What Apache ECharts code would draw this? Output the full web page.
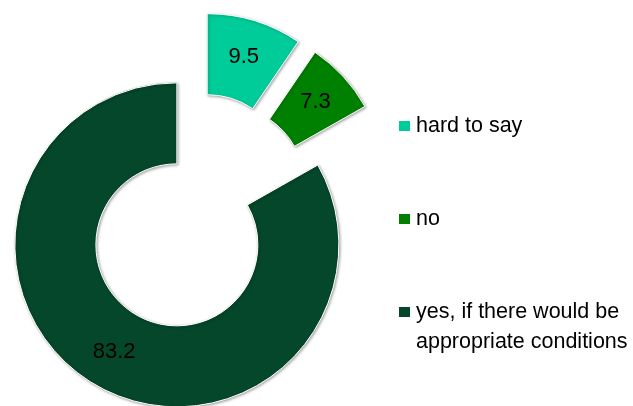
<!DOCTYPE html>
<html>
<head>
<meta charset="utf-8">
<script src="https://cdn.jsdelivr.net/npm/echarts@6/dist/echarts.min.js"></script>
<style>
html,body{margin:0;padding:0;background:#fff;}
#chart{width:633px;height:406px;}
</style>
</head>
<body>
<div id="chart"></div>
<script>
const categories = ['hard to say', 'no', 'yes, if there would be appropriate conditions'];
const values = [9.5, 7.3, 83.2];
const colors = ['#00CC99', '#008000', '#05472A'];
const legendLabels = ['hard to say', 'no', ' \nyes, if there would be\nappropriate conditions'];

const chart = echarts.init(document.getElementById('chart'), null, {renderer: 'canvas'});
const font = '"Liberation Sans", Arial, sans-serif';

const data = categories.map((c, i) => ({
  name: c,
  value: values[i],
  selected: true,
  itemStyle: {color: colors[i]}
}));

function mkLegend(i, top) {
  return {
    data: [categories[i]],
    orient: 'vertical',
    left: 397,
    top: top,
    padding: 0,
    itemWidth: 13,
    itemHeight: 12,
    icon: 'rect',
    selectedMode: false,
    formatter: () => legendLabels[i],
    textStyle: {
      fontFamily: font,
      fontSize: 21.5,
      color: '#000',
      lineHeight: 30
    }
  };
}

chart.setOption({
  animation: false,
  legend: [
    mkLegend(0, 111),
    mkLegend(1, 204),
    mkLegend(2, 267)
  ],
  series: [{
    type: 'pie',
    center: [196, 212],
    radius: [81, 162],
    startAngle: 90,
    clockwise: true,
    selectedMode: 'multiple',
    selectedOffset: 38,
    avoidLabelOverlap: false,
    emphasis: {disabled: true},
    itemStyle: {
      borderColor: '#ffffff',
      borderWidth: 1,
      shadowBlur: 3,
      shadowColor: 'rgba(0,0,0,0.35)',
      shadowOffsetX: 1,
      shadowOffsetY: 1
    },
    label: {
      show: true,
      position: 'inside',
      color: '#000',
      fontFamily: font,
      fontSize: 22,
      formatter: p => p.value.toFixed(1)
    },
    labelLine: {show: false},
    data: data
  }]
});
</script>
</body>
</html>
